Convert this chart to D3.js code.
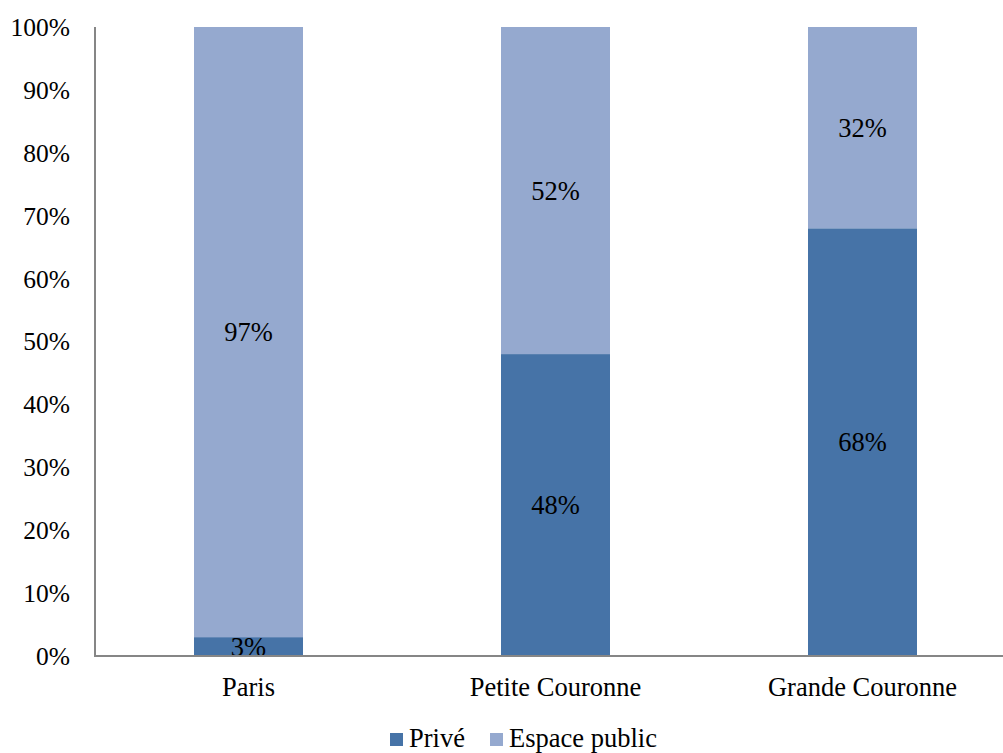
<!DOCTYPE html>
<html><head><meta charset="utf-8">
<script src="https://cdn.jsdelivr.net/npm/d3@7"></script>
<style>body{margin:0;background:#fff}svg{display:block}</style>
</head><body><svg id="c" width="1003" height="753"></svg>
<script>
const categories = ["Paris", "Petite Couronne", "Grande Couronne"];
const prive = [3, 48, 68];
const espacePublic = [97, 52, 32];
const seriesNames = ["Privé", "Espace public"];
const yTicks = [0,10,20,30,40,50,60,70,80,90,100];
const colors = ["#4673a7", "#95a9cf"];

const FONT = "'Liberation Serif', 'Times New Roman', 'DejaVu Serif', serif";
const svg = d3.select("#c").attr("font-family", FONT);
const x0 = 95, x1 = 1003, yTop = 27, yBot = 656;
const x = d3.scaleBand().domain(categories).range([x0, 1016]).paddingInner(0.645).paddingOuter(0.3225);
const y = d3.scaleLinear().domain([0, 100]).range([yBot, yTop]);

const rows = categories.map((c, i) => ({cat: c, "Privé": prive[i], "Espace public": espacePublic[i]}));
const stacked = d3.stack().keys(seriesNames)(rows);

const fsTick = 25.5, fs = 26.5;
svg.append("g").selectAll("text").data(yTicks).join("text")
  .attr("font-family", FONT)
  .attr("x", 70).attr("y", d => y(d)).attr("dy", "0.35em")
  .attr("text-anchor", "end").attr("font-size", fsTick).attr("fill", "#000")
  .text(d => d + "%");

stacked.forEach((s, si) => {
  svg.append("g").selectAll("rect").data(s).join("rect")
    .attr("x", d => x(d.data.cat)).attr("width", x.bandwidth())
    .attr("y", d => y(d[1])).attr("height", d => y(d[0]) - y(d[1]))
    .attr("fill", colors[si]);
});
stacked.forEach((s, si) => {
  svg.append("g").selectAll("text").data(s).join("text")
    .attr("font-family", FONT)
    .attr("x", d => x(d.data.cat) + x.bandwidth()/2)
    .attr("y", d => (y(d[0]) + y(d[1]))/2).attr("dy", "0.35em")
    .attr("text-anchor", "middle").attr("font-size", fs).attr("fill", "#000")
    .text(d => (d[1]-d[0]) + "%");
});
svg.append("line").attr("x1", x0).attr("x2", x0).attr("y1", yTop).attr("y2", yBot)
  .attr("stroke", "#868686").attr("stroke-width", 2);
svg.append("line").attr("x1", x0 - 1).attr("x2", x1).attr("y1", yBot).attr("y2", yBot)
  .attr("stroke", "#868686").attr("stroke-width", 2);
svg.append("g").selectAll("text").data(categories).join("text")
  .attr("font-family", FONT)
  .attr("x", d => x(d) + x.bandwidth()/2).attr("y", 696)
  .attr("text-anchor", "middle").attr("font-size", fs).attr("fill", "#000").text(d => d);
const leg = svg.append("g");
const legItems = [{n: seriesNames[0], x: 390}, {n: seriesNames[1], x: 490}];
legItems.forEach((it, i) => {
  leg.append("rect").attr("x", it.x).attr("y", 733).attr("width", 13).attr("height", 13).attr("fill", colors[i]);
  leg.append("text").attr("font-family", FONT).attr("x", it.x + 19).attr("y", 747)
    .attr("font-size", fs).attr("fill", "#000").text(it.n);
});
</script></body></html>
